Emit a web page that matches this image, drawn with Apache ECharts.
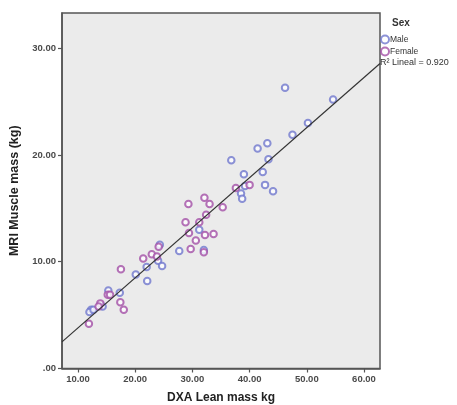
<!DOCTYPE html>
<html><head><meta charset="utf-8">
<script src="https://cdn.jsdelivr.net/npm/echarts@6/dist/echarts.min.js"></script>
<style>html,body{margin:0;padding:0;background:#fff}#c{width:457px;height:405px}</style>
</head><body><div id="c"></div>
<script>
const xTicks = [10, 20, 30, 40, 50, 60];
const yTicks = [0, 10, 20, 30];
const maleData = [[46.2,26.3],[54.6,25.2],[50.2,23.0],[47.5,21.9],[43.1,21.1],[41.4,20.6],[36.8,19.5],[43.3,19.6],[39.0,18.2],[42.3,18.4],[39.2,17.1],[42.7,17.2],[44.1,16.6],[38.5,16.4],[38.7,15.9],[31.2,13.0],[32.0,11.1],[27.7,11.0],[24.3,11.6],[24.0,10.1],[24.7,9.6],[22.0,9.5],[20.1,8.8],[22.1,8.2],[15.3,7.3],[17.3,7.1],[14.3,5.8],[12.3,5.5],[12.0,5.3],[12.7,5.5]];
const femaleData = [[37.6,16.9],[40.0,17.2],[35.3,15.1],[29.3,15.4],[32.1,16.0],[33.0,15.4],[28.8,13.7],[31.2,13.7],[32.4,14.4],[29.4,12.7],[32.2,12.5],[33.7,12.6],[30.6,12.0],[29.7,11.2],[32.0,10.9],[24.1,11.4],[21.4,10.3],[22.9,10.7],[23.8,10.5],[17.5,9.3],[15.2,6.9],[15.6,6.9],[17.4,6.2],[18.0,5.5],[13.9,6.1],[13.6,5.8],[11.9,4.2]];
const fitIntercept = -0.88;
const fitSlope = 0.469;
const xMin = 7.2, xMax = 62.8, yMin = 0, yMax = 33.3;
const fitLine = [[xMin, fitIntercept + fitSlope * xMin], [xMax, fitIntercept + fitSlope * xMax]];

const maleColor = '#6f77cd', femaleColor = '#a34fa6';
const fmt = v => v === 0 ? '.00' : v.toFixed(2);
const chart = echarts.init(document.getElementById('c'), null, {renderer: 'canvas'});
chart.setOption({
  animation: false,
  backgroundColor: '#fff',
  grid: {left: 62, right: 77, top: 13, bottom: 36.5, outerBoundsMode: 'none', containLabel: false,
         show: true, backgroundColor: '#ebebeb', borderColor: '#555', borderWidth: 1.5},
  xAxis: {
    type: 'value', min: xMin, max: xMax,
    name: 'DXA Lean mass kg', nameLocation: 'middle', nameGap: 23,
    nameTextStyle: {fontFamily: 'Liberation Sans', fontWeight: 'bold', fontSize: 12, color: '#222'},
    axisLine: {show: true, lineStyle: {color: '#555', width: 1.5}},
    axisTick: {show: true, length: 4, lineStyle: {color: '#555', width: 1.2}, customValues: xTicks},
    axisLabel: {customValues: xTicks, formatter: fmt, fontFamily: 'Liberation Sans', fontWeight: 'bold', fontSize: 9.5, color: '#4a4a4a', margin: 6},
    splitLine: {show: false}
  },
  yAxis: {
    type: 'value', min: yMin, max: yMax,
    name: 'MRI Muscle mass (kg)', nameLocation: 'middle', nameGap: 34, nameRotate: 90,
    nameTextStyle: {fontFamily: 'Liberation Sans', fontWeight: 'bold', fontSize: 12.5, color: '#222'},
    axisLine: {show: true, lineStyle: {color: '#555', width: 1.5}},
    axisTick: {show: true, length: 4, lineStyle: {color: '#555', width: 1.2}, customValues: yTicks},
    axisLabel: {customValues: yTicks, formatter: fmt, fontFamily: 'Liberation Sans', fontWeight: 'bold', fontSize: 9.5, color: '#4a4a4a', margin: 6},
    splitLine: {show: false}
  },
  legend: {
    orient: 'vertical', left: 380, top: 34.5, padding: 0, itemWidth: 8, itemHeight: 8, itemGap: 2,
    textStyle: {fontFamily: 'Liberation Sans', fontSize: 8.5, color: '#333', padding: [0,0,0,-4]},
    data: [{name: 'Male', icon: 'emptyCircle'}, {name: 'Female', icon: 'emptyCircle'}]
  },
  graphic: [
    {type: 'text', left: 392, top: 18, style: {text: 'Sex', font: 'bold 10px "Liberation Sans"', fill: '#333'}},
    {type: 'text', left: 380, top: 58.5, style: {text: 'R² Lineal = 0.920', font: '9px "Liberation Sans"', fill: '#333'}}
  ],
  series: [
    {name: 'Male', type: 'scatter', data: maleData, symbol: 'emptyCircle', symbolSize: 6.5,
     itemStyle: {color: maleColor, borderColor: maleColor, borderWidth: 1.1}, z: 3},
    {name: 'Female', type: 'scatter', data: femaleData, symbol: 'emptyCircle', symbolSize: 6.5,
     itemStyle: {color: femaleColor, borderColor: femaleColor, borderWidth: 1.1}, z: 3},
    {name: 'Fit', type: 'line', data: fitLine, symbol: 'none', lineStyle: {color: '#333', width: 1.2}, z: 4}
  ]
});
</script></body></html>
